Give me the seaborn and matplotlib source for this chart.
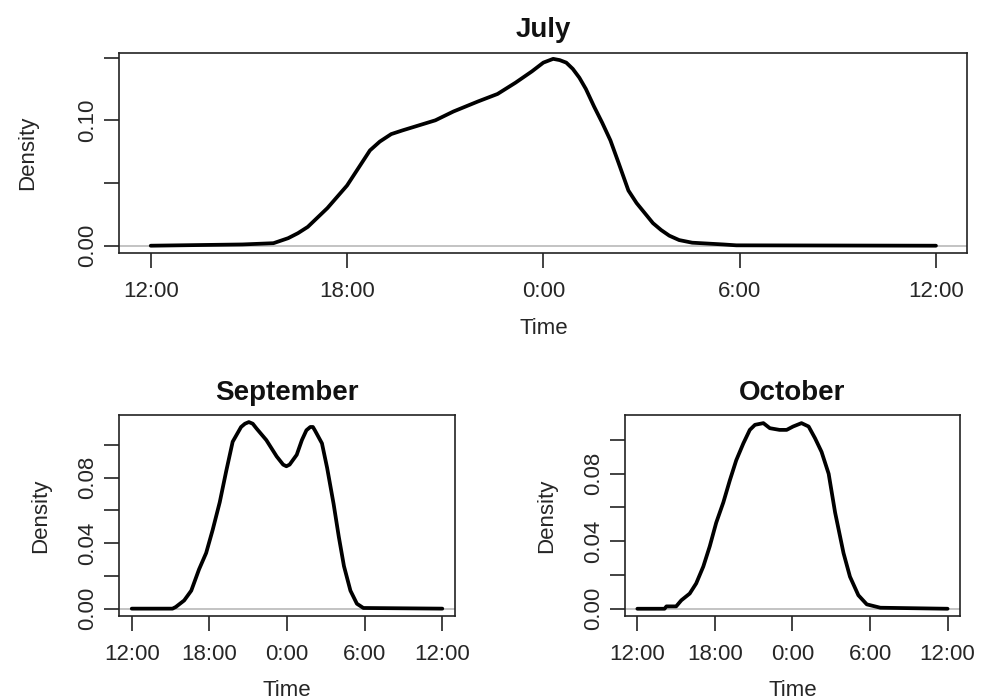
import matplotlib
matplotlib.use("Agg")
import matplotlib.pyplot as plt
import seaborn as sns
import numpy as np
import pandas as pd

# ==========================================
# Data: density curves
# time is hours after 12:00 (0 = 12:00, 12 = 0:00, 24 = 12:00 next day)
# ==========================================
july_hours = [0, 2.8, 3.75, 4.2, 4.5, 4.8, 5.4, 6.0, 6.45, 6.7, 7.0, 7.35, 7.7, 8.2, 8.7,
              9.25, 10.0, 10.6, 11.15, 11.65, 11.85, 12.0, 12.3, 12.5, 12.7, 12.9, 13.1,
              13.3, 13.55, 13.8, 14.05, 14.3, 14.6, 14.85, 15.1, 15.35, 15.6, 15.85,
              16.15, 16.55, 17.5, 17.9, 24]
july_density = [0, 0.001, 0.002, 0.006, 0.010, 0.015, 0.030, 0.048, 0.066, 0.076, 0.083,
                0.089, 0.092, 0.096, 0.100, 0.107, 0.115, 0.121, 0.130, 0.139, 0.143,
                0.146, 0.149, 0.148, 0.146, 0.141, 0.134, 0.125, 0.111, 0.098, 0.084,
                0.066, 0.044, 0.034, 0.026, 0.018, 0.0125, 0.008, 0.0045, 0.0024,
                0.001, 0.0003, 0]

sept_hours = [0, 3.15, 3.4, 4.05, 4.6, 5.2, 5.75, 6.25, 6.8, 7.3, 7.8, 8.45, 8.75, 9.05,
              9.35, 9.65, 10.4, 11.2, 11.7, 11.95, 12.2, 12.75, 13.15, 13.5, 13.8, 14.0,
              14.15, 14.7, 15.1, 15.6, 16.0, 16.4, 16.9, 17.4, 17.9, 24]
sept_density = [0, 0, 0.001, 0.005, 0.011, 0.024, 0.034, 0.048, 0.065, 0.084, 0.102,
                0.111, 0.113, 0.114, 0.113, 0.110, 0.103, 0.093, 0.088, 0.087, 0.088,
                0.094, 0.103, 0.109, 0.111, 0.111, 0.109, 0.101, 0.086, 0.064, 0.044,
                0.026, 0.011, 0.003, 0.0004, 0]

oct_hours = [0, 2.1, 2.25, 3.0, 3.4, 4.05, 4.55, 5.1, 5.6, 6.1, 6.65, 7.15, 7.65, 8.2,
             8.7, 9.1, 9.75, 10.25, 11.0, 11.55, 12.05, 12.7, 13.25, 13.75, 14.25, 14.8,
             15.3, 15.95, 16.45, 17.1, 17.75, 18.8, 24]
oct_density = [0, 0, 0.0014, 0.0014, 0.005, 0.009, 0.015, 0.025, 0.037, 0.051, 0.063,
               0.076, 0.088, 0.098, 0.106, 0.109, 0.110, 0.107, 0.106, 0.106, 0.108,
               0.110, 0.108, 0.101, 0.093, 0.080, 0.057, 0.033, 0.019, 0.008, 0.0026,
               0.0006, 0]

tick_hours = [0, 6, 12, 18, 24]
tick_labels = ["12:00", "18:00", "0:00", "6:00", "12:00"]

july_yticks = [0, 0.05, 0.10, 0.15]
july_ylabels = ["0.00", "", "0.10", ""]
small_yticks = [0, 0.02, 0.04, 0.06, 0.08, 0.10]
small_ylabels = ["0.00", "", "0.04", "", "0.08", ""]

# ==========================================
# Style (R base graphics look)
# ==========================================
sns.set_style("ticks")
plt.rcParams["font.family"] = ["Liberation Sans", "DejaVu Sans"]
plt.rcParams["text.color"] = "#111111"

fig = plt.figure(figsize=(9.87, 7.0), dpi=100)

panels = [
    ("July", july_hours, july_density, [0.1209, 0.6386, 0.8592, 0.2861],
     (-0.0058, 0.1539), july_yticks, july_ylabels, 28, 12),
    ("September", sept_hours, sept_density, [0.1209, 0.12, 0.3398, 0.2871],
     (-0.0045, 0.1183), small_yticks, small_ylabels, 19, 11),
    ("October", oct_hours, oct_density, [0.6332, 0.12, 0.3394, 0.2871],
     (-0.0043, 0.1148), small_yticks, small_ylabels, 19, 11),
]

for title, hours, dens, rect, ylim, yticks, ylabels, ypad, xpad in panels:
    ax = fig.add_axes(rect)
    df = pd.DataFrame({"Time": hours, "Density": dens})
    ax.axhline(0, color="#bebebe", linewidth=1.3, zorder=1)
    sns.lineplot(data=df, x="Time", y="Density", ax=ax, color="black",
                 linewidth=2.7, sort=False, zorder=3)
    ax.set_xlim(-0.96, 24.96)
    ax.set_ylim(*ylim)
    ax.set_xticks(tick_hours)
    ax.set_xticklabels(tick_labels, fontsize=16)
    ax.set_yticks(yticks)
    ax.set_yticklabels(ylabels, fontsize=16, rotation=90, va="center")
    ax.tick_params(axis="both", direction="out", length=11, width=1.2, color="#222222")
    ax.tick_params(axis="x", pad=9)
    ax.tick_params(axis="y", pad=4)
    for s in ax.spines.values():
        s.set_linewidth(1.2)
        s.set_color("#222222")
    ax.set_title(title, fontsize=20, fontweight="bold", pad=11)
    ax.set_xlabel("Time", fontsize=16, labelpad=xpad)
    ax.set_ylabel("Density", fontsize=16, labelpad=ypad)

fig.savefig("out.png", dpi=100)
plt.close(fig)
print("Saved out.png")
